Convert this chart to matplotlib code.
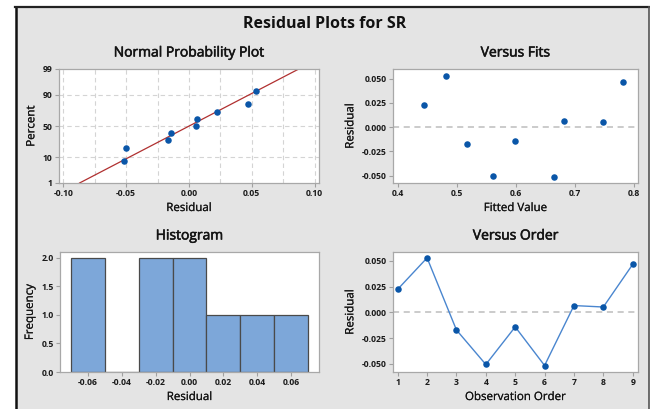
import matplotlib
matplotlib.use("Agg")
import matplotlib.pyplot as plt
import matplotlib.patheffects as pe
from matplotlib.patches import Rectangle
from matplotlib.lines import Line2D
from statistics import NormalDist
import numpy as np

# ---- data ----
observation_order = [1, 2, 3, 4, 5, 6, 7, 8, 9]
residuals = [0.0225, 0.053, -0.017, -0.0505, -0.014, -0.0515, 0.0067, 0.0053, 0.0467]
fitted_values = [0.445, 0.481, 0.517, 0.562, 0.599, 0.664, 0.682, 0.747, 0.782]
npp_percent = [7.4, 18.1, 28.7, 39.4, 50.0, 60.6, 71.3, 81.9, 92.6]
hist_centers = [-0.06, -0.04, -0.02, 0.00, 0.02, 0.04, 0.06]
hist_counts = [2, 0, 2, 2, 1, 1, 1]
npp_yticks = [1, 10, 50, 90, 99]
npp_xticks = [-0.10, -0.05, 0.00, 0.05, 0.10]
fits_xticks = [0.4, 0.5, 0.6, 0.7, 0.8]
res_yticks = [-0.050, -0.025, 0.000, 0.025, 0.050]
hist_xticks = [-0.06, -0.04, -0.02, 0.00, 0.02, 0.04, 0.06]
hist_yticks = [0.0, 0.5, 1.0, 1.5, 2.0]

FONT = ["Open Sans", "DejaVu Sans"]
plt.rcParams['font.family'] = FONT

W, H = 650, 409
fig = plt.figure(figsize=(6.5, 4.09), dpi=100, facecolor="white")

# background panel with frame lines (left/top black, right dark grey)
fig.patches.append(Rectangle((16 / W, 0), (649 - 16) / W, (409 - 7) / H,
                             transform=fig.transFigure, facecolor="#e4e4e4",
                             edgecolor="none", zorder=-10))
fig.lines.append(Line2D([15.5 / W, 15.5 / W], [0, 1 - 6.5 / H], transform=fig.transFigure,
                        color="#111111", lw=1.8, zorder=-5))
fig.lines.append(Line2D([15 / W, 649 / W], [1 - 6.5 / H, 1 - 6.5 / H], transform=fig.transFigure,
                        color="#222222", lw=1.6, zorder=-5))
fig.lines.append(Line2D([648.5 / W, 648.5 / W], [0, 1 - 6.5 / H], transform=fig.transFigure,
                        color="#555555", lw=1.2, zorder=-5))


def make_ax(l, t, r, b):
    ax = fig.add_axes([l / W, 1 - b / H, (r - l) / W, (b - t) / H])
    ax.set_facecolor("white")
    for s in ax.spines.values():
        s.set_color("#a8a8a8")
        s.set_linewidth(0.9)
    ax.tick_params(direction="out", length=3, width=0.8, color="#a0a0a0",
                   labelsize=6.2, labelcolor="#1a1a1a", pad=1.5)
    return ax


PT_COLOR = "#0a56a8"
TXT = "#141414"
TITLE_KW = dict(fontsize=10, color=TXT, pad=9,
                path_effects=[pe.withStroke(linewidth=0.4, foreground=TXT)])
LABEL_KW = dict(fontsize=8.3, color=TXT,
                path_effects=[pe.withStroke(linewidth=0.12, foreground=TXT)])

fig.text(0.5, 1 - 24 / H, "Residual Plots for SR", ha="center", va="center",
         fontsize=11.5, fontweight="bold", color="#111111")

# ---- Normal probability plot ----
nd = NormalDist()
ax1 = make_ax(59, 69, 319, 183)
sorted_res = sorted(residuals)
z_pts = [nd.inv_cdf(p / 100) for p in npp_percent]
mu = float(np.mean(residuals))
sd = float(np.std(residuals, ddof=1))
z_lo, z_hi = nd.inv_cdf(0.01), nd.inv_cdf(0.99)
ax1.plot([mu + z_lo * sd, mu + z_hi * sd], [z_lo, z_hi], color="#b03030", lw=0.9, zorder=2)
ax1.scatter(sorted_res, z_pts, s=22, color=PT_COLOR, zorder=3, linewidths=0)
ax1.set_xlim(-0.1035, 0.1035)
ax1.set_ylim(z_lo, z_hi)
ax1.set_xticks(npp_xticks)
ax1.set_xticklabels([f"{v:.2f}" for v in npp_xticks])
ax1.set_yticks([nd.inv_cdf(v / 100) for v in npp_yticks])
ax1.set_yticklabels([str(v) for v in npp_yticks])
for gx in np.arange(-0.1, 0.1001, 0.025):
    ax1.axvline(gx, color="#d4d4d4", lw=0.8, ls=(0, (4, 3)), zorder=1)
for gy in [10, 50, 90]:
    ax1.axhline(nd.inv_cdf(gy / 100), color="#d4d4d4", lw=0.8, ls=(0, (4, 3)), zorder=1)
ax1.set_title("Normal Probability Plot", **TITLE_KW)
ax1.set_xlabel("Residual", labelpad=2, **LABEL_KW)
ax1.set_ylabel("Percent", labelpad=4, **LABEL_KW)

# ---- Versus Fits ----
ax2 = make_ax(393, 69, 638, 183)
ax2.axhline(0, color="#bdbdbd", lw=1.1, ls=(0, (4, 3)), zorder=1)
ax2.scatter(fitted_values, residuals, s=22, color=PT_COLOR, zorder=3, linewidths=0)
ax2.set_xlim(0.392, 0.807)
ax2.set_ylim(-0.0575, 0.060)
ax2.set_xticks(fits_xticks)
ax2.set_xticklabels([f"{v:.1f}" for v in fits_xticks])
ax2.set_yticks(res_yticks)
ax2.set_yticklabels([f"{v:.3f}" for v in res_yticks])
ax2.set_title("Versus Fits", **TITLE_KW)
ax2.set_xlabel("Fitted Value", labelpad=2, **LABEL_KW)
ax2.set_ylabel("Residual", labelpad=4, **LABEL_KW)

# ---- Histogram ----
ax3 = make_ax(60, 252, 319, 372)
ax3.bar(hist_centers, hist_counts, width=0.02, color="#7da7d9", edgecolor="#4a4a4a",
        linewidth=0.9, zorder=2)
ax3.set_xlim(-0.0763, 0.0763)
ax3.set_ylim(0, 2.105)
ax3.set_xticks(hist_xticks)
ax3.set_xticklabels([f"{v:.2f}" for v in hist_xticks])
ax3.set_yticks(hist_yticks)
ax3.set_yticklabels([f"{v:.1f}" for v in hist_yticks])
ax3.set_title("Histogram", **TITLE_KW)
ax3.set_xlabel("Residual", labelpad=2, **LABEL_KW)
ax3.set_ylabel("Frequency", labelpad=4, **LABEL_KW)

# ---- Versus Order ----
ax4 = make_ax(393, 252, 638, 372)
ax4.axhline(0, color="#bdbdbd", lw=1.1, ls=(0, (4, 3)), zorder=1)
ax4.plot(observation_order, residuals, color="#4a86cf", lw=1.0, zorder=2)
ax4.scatter(observation_order, residuals, s=22, color=PT_COLOR, zorder=3, linewidths=0)
ax4.set_xlim(0.84, 9.18)
ax4.set_ylim(-0.0578, 0.0587)
ax4.set_xticks(observation_order)
ax4.set_yticks(res_yticks)
ax4.set_yticklabels([f"{v:.3f}" for v in res_yticks])
ax4.set_title("Versus Order", **TITLE_KW)
ax4.set_xlabel("Observation Order", labelpad=2, **LABEL_KW)
ax4.set_ylabel("Residual", labelpad=4, **LABEL_KW)

for ax in (ax1, ax2, ax3, ax4):
    for lab in ax.get_xticklabels() + ax.get_yticklabels():
        lab.set_fontweight("bold")

fig.savefig("out.png", dpi=100, facecolor="white")
